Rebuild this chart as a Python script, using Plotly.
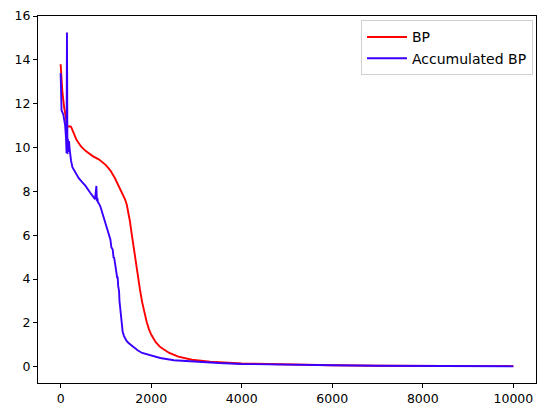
import plotly.graph_objects as go

# BP series (iteration, loss)
bp_x = [0, 10, 40, 80, 120, 150, 190, 230, 280, 350, 450, 550, 700, 850, 1000, 1100, 1200,
        1300, 1380, 1420, 1460, 1500, 1530, 1560, 1600, 1650, 1700, 1750, 1800, 1850, 1900,
        1950, 2000, 2100, 2200, 2400, 2600, 2900, 3300, 4000, 5000, 6000, 7000, 8000, 9000,
        10000]
bp_y = [13.8, 13.3, 12.5, 11.8, 11.2, 10.95, 10.97, 10.95, 10.7, 10.35, 10.05, 9.85, 9.62,
        9.45, 9.2, 8.95, 8.6, 8.2, 7.85, 7.65, 7.4, 7.05, 6.65, 6.2, 5.6, 4.9, 4.2, 3.55,
        2.95, 2.45, 2.05, 1.72, 1.47, 1.12, 0.9, 0.63, 0.46, 0.32, 0.23, 0.15, 0.1, 0.07,
        0.05, 0.04, 0.03, 0.03]

# Accumulated BP series
acc_x = [0, 8, 20, 60, 100, 120, 130, 140, 150, 160, 170, 185, 200, 210, 230, 260, 300, 350,
         400, 475, 550, 650, 720, 760, 790, 800, 810, 825, 845, 880, 940, 1000, 1060, 1100,
         1120, 1150, 1170, 1180, 1210, 1230, 1250, 1260, 1270, 1290, 1300, 1320, 1330, 1350,
         1370, 1400, 1450, 1500, 1600, 1700, 1800, 2000, 2200, 2500, 2900, 3500, 4000, 5000,
         6000, 7000, 8000, 9000, 10000]
acc_y = [13.4, 11.9, 11.7, 11.5, 11.0, 10.4, 9.75, 15.25, 9.7, 10.4, 9.8, 10.3, 9.9, 9.6,
         9.4, 9.1, 8.95, 8.75, 8.6, 8.42, 8.25, 7.95, 7.75, 7.65, 8.25, 7.55, 7.7, 7.5, 7.45,
         7.3, 6.9, 6.5, 6.05, 5.8, 5.45, 5.35, 4.95, 5.0, 4.6, 4.35, 4.05, 4.1, 3.7, 3.45, 3.0,
         2.6, 2.3, 1.85, 1.6, 1.4, 1.2, 1.08, 0.9, 0.75, 0.63, 0.5, 0.4, 0.3, 0.24, 0.17, 0.13,
         0.09, 0.07, 0.05, 0.04, 0.03, 0.02]

x_ticks = [0, 2000, 4000, 6000, 8000, 10000]
x_tick_labels = ["0", "2000", "4000", "6000", "8000", "10000"]
y_ticks = [0, 2, 4, 6, 8, 10, 12, 14, 16]

fig = go.Figure()
fig.add_trace(go.Scatter(x=bp_x, y=bp_y, mode="lines", name="BP",
                         line=dict(color="#ff0000", width=1.9)))
fig.add_trace(go.Scatter(x=acc_x, y=acc_y, mode="lines", name="Accumulated BP",
                         line=dict(color="#3a00ff", width=1.9)))

axis_common = dict(showgrid=False, zeroline=False, showline=True, linecolor="black",
                   linewidth=1, mirror=True, ticks="outside", ticklen=4, tickwidth=1,
                   tickcolor="black", automargin=False,
                   tickfont=dict(family="DejaVu Sans", size=12.5, color="black"))

fig.update_layout(
    width=546, height=409,
    margin=dict(l=38, r=10, t=16, b=26, pad=0),
    paper_bgcolor="white", plot_bgcolor="white",
    xaxis=dict(range=[-500, 10500], tickvals=x_ticks, ticktext=x_tick_labels, **axis_common),
    yaxis=dict(range=[-0.74, 16.0], tickvals=y_ticks, **axis_common),
    legend=dict(x=0.994, y=0.988, xanchor="right", yanchor="top", bgcolor="white",
                bordercolor="#d0d0d0", borderwidth=1,
                font=dict(family="DejaVu Sans", size=14, color="black"),
                tracegroupgap=0, itemwidth=40),
    showlegend=True,
)

fig.write_html(
    "out.html",
    config={"displayModeBar": False},
    post_script="document.body.style.margin='0';document.body.style.padding='0';"
                "document.body.style.overflow='hidden';",
)
